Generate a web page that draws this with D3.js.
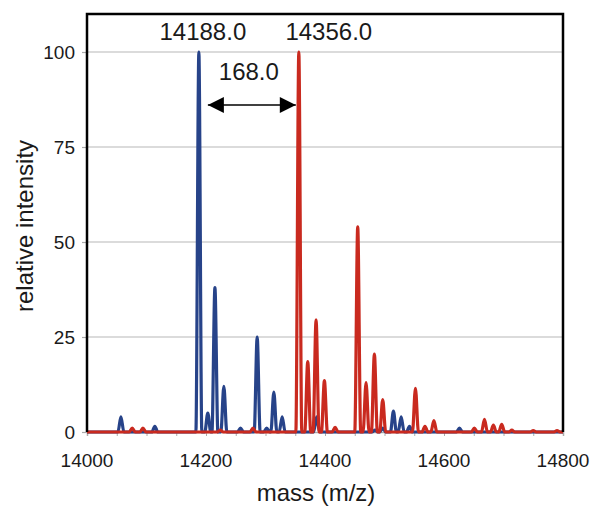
<!DOCTYPE html>
<html>
<head>
<meta charset="utf-8">
<script src="https://cdn.jsdelivr.net/npm/d3@7"></script>
<style>
    body { margin: 0; background: #fff; }
    text { font-family: "Liberation Sans", Arial, sans-serif; fill: #1a1a1a; }
</style>
</head>
<body>
<script>
// peaks (mass, relative intensity)
const blueMass = [14057, 14114, 14188, 14203, 14215, 14230, 14258, 14286, 14302, 14314, 14328, 14386, 14484, 14497, 14515, 14528, 14542, 14626];
const blueInt  = [4, 1.5, 100, 5, 38, 12, 1, 25, 1, 10.5, 4, 4, 0.5, 1, 5.5, 4, 1.5, 1];
const redMass  = [14076, 14094, 14224, 14279, 14356, 14371, 14385, 14399, 14417, 14455, 14469, 14483, 14497, 14552, 14568, 14583, 14651, 14668, 14683, 14697, 14714, 14750, 14790];
const redInt   = [1, 1, 0.5, 1, 100, 18.5, 29.5, 13.5, 1.2, 54, 13, 20.5, 8.5, 11.5, 1.5, 3, 1, 3.3, 1.8, 2, 0.5, 0.4, 0.4];
const xTicks = [14000, 14200, 14400, 14600, 14800];
const yTicks = [0, 25, 50, 75, 100];
const peakLabels = ['14188.0', '14356.0'];
const deltaLabel = '168.0';

const width = 590;
const height = 506;
const halfWidth = 5; // peak half width at base, in Da

let svg = d3.select('body')
    .append('svg')
    .attr('width', width)
    .attr('height', height);

const x = d3.scaleLinear().domain([14000, 14800]).range([87, 563]);
const y = d3.scaleLinear().domain([0, 110]).range([432, 14]);

// grid
svg.append('g')
    .selectAll('line')
    .data(yTicks.filter(d => d > 0))
    .join('line')
    .attr('x1', x(14000))
    .attr('x2', x(14800))
    .attr('y1', d => y(d))
    .attr('y2', d => y(d))
    .style('stroke', '#cfcfcf')
    .style('stroke-width', 1.5);

// x axis
let xAxis = svg.append('g')
    .attr('transform', `translate(0,${y(0)})`)
    .call(d3.axisBottom(x).tickValues(d3.range(14000, 14801, 50)).tickSize(4).tickFormat(''));
xAxis.select('.domain').style('stroke', '#aaa').style('stroke-width', 1.5);
xAxis.selectAll('.tick line').style('stroke', '#aaa');

svg.append('g')
    .selectAll('text')
    .data(xTicks)
    .join('text')
    .attr('x', d => x(d))
    .attr('y', 467)
    .attr('text-anchor', 'middle')
    .style('font-size', '19px')
    .text(d => d);

// y axis
let yAxis = svg.append('g')
    .attr('transform', `translate(${x(14000)},0)`)
    .call(d3.axisLeft(y).tickValues(yTicks).tickSize(5).tickPadding(7));
yAxis.select('.domain').remove();
yAxis.selectAll('.tick line').style('stroke', '#aaa').style('stroke-width', 1.2);
yAxis.selectAll('.tick text')
    .style('font-size', '19px')
    .style('font-family', '"Liberation Sans", Arial, sans-serif')
    .attr('fill', '#1a1a1a');

// spectra
function spectrum(mass, inten) {
    let pts = [[14000, 0]];
    mass.forEach((m, i) => {
        pts.push([m - halfWidth, 0], [m, inten[i]], [m + halfWidth, 0]);
    });
    pts.push([14800, 0]);
    return pts;
}

const line = d3.line()
    .x(d => x(d[0]))
    .y(d => y(d[1]))
    .curve(d3.curveMonotoneX);

svg.append('path')
    .attr('d', line(spectrum(blueMass, blueInt)))
    .style('fill', 'none')
    .style('stroke', '#274389')
    .style('stroke-width', 3.2)
    .style('stroke-linejoin', 'round');

svg.append('path')
    .attr('d', line(spectrum(redMass, redInt)))
    .style('fill', 'none')
    .style('stroke', '#c92a1f')
    .style('stroke-width', 3.2)
    .style('stroke-linejoin', 'round');

// frame
svg.append('path')
    .attr('d', `M${x(14000)},${y(0)} V${y(110)} H${x(14800)} V${y(0)}`)
    .style('fill', 'none')
    .style('stroke', '#000')
    .style('stroke-width', 2.5);

// annotations
svg.append('g')
    .selectAll('text')
    .data([14188, 14356])
    .join('text')
    .attr('x', (d, i) => x(d) + (i == 0 ? 4 : 30))
    .attr('y', 40)
    .attr('text-anchor', 'middle')
    .style('font-size', '24px')
    .text((d, i) => peakLabels[i]);

svg.append('text')
    .attr('x', x((14188 + 14356) / 2))
    .attr('y', 80)
    .attr('text-anchor', 'middle')
    .style('font-size', '24px')
    .text(deltaLabel);

let defs = svg.append('defs');
defs.append('marker')
    .attr('id', 'head')
    .attr('viewBox', '0 0 10 10')
    .attr('refX', 10)
    .attr('refY', 5)
    .attr('markerWidth', 17)
    .attr('markerHeight', 16)
    .attr('markerUnits', 'userSpaceOnUse')
    .attr('orient', 'auto-start-reverse')
    .append('path')
    .attr('d', 'M0,0 L10,5 L0,10 Z')
    .style('fill', '#000');

svg.append('line')
    .attr('x1', x(14188) + 9)
    .attr('x2', x(14356) - 3)
    .attr('y1', 105)
    .attr('y2', 105)
    .style('stroke', '#000')
    .style('stroke-width', 1.6)
    .attr('marker-start', 'url(#head)')
    .attr('marker-end', 'url(#head)');

// axis titles
svg.append('text')
    .attr('x', 316)
    .attr('y', 501)
    .attr('text-anchor', 'middle')
    .style('font-size', '24px')
    .text('mass (m/z)');

svg.append('text')
    .attr('transform', 'translate(33,226) rotate(-90)')
    .attr('text-anchor', 'middle')
    .style('font-size', '24px')
    .text('relative intensity');
</script>
</body>
</html>
